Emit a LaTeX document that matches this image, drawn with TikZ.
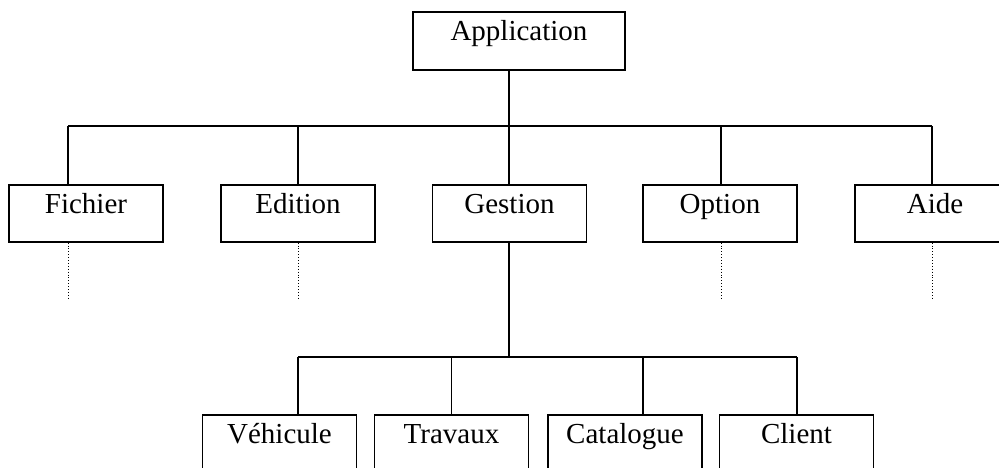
\documentclass[tikz,border=0pt]{standalone}
\usepackage{fontspec}
\setmainfont{Liberation Serif}
\begin{document}
\begin{tikzpicture}[x=1pt,y=-1pt,
  box/.style={draw,line width=1.6pt,rectangle,inner sep=0pt,minimum width=154pt,
    text height=28.5pt,text depth=28.5pt,anchor=north,
    font=\fontsize{29}{30}\selectfont},
  link/.style={line width=1.6pt},
  dots/.style={dotted,line width=0.9pt}]
\useasboundingbox (0,0) rectangle (999,468);
\clip (0,0) rectangle (999,468);
% nodes
\node[box,minimum width=212pt,text depth=29.5pt] (app) at (519,11) {Application};
\node[box] (fic) at (86,184) {Fichier};
\node[box] (edi) at (298,184) {Edition};
\node[box] (ges) at (509.5,184) {Gestion};
\node[box] (opt) at (720,184) {Option};
\node[box,minimum width=160pt] (aid) at (935,184) {Aide};
\node[box,text depth=31pt] (veh) at (279.5,414) {Véhicule};
\node[box,text depth=31pt] (tra) at (451.5,414) {Travaux};
\node[box,text depth=31pt] (cat) at (625,414) {Catalogue};
\node[box,text depth=31pt] (cli) at (796.5,414) {Client};
% coordinates of the buses
\coordinate (busT) at (509,126);
\coordinate (bf) at (68,126);
\coordinate (ba) at (932,126);
\coordinate (bo) at (721,126);
\coordinate (busB) at (509,357);
\coordinate (bv) at (298,357);
\coordinate (bcat) at (643,357);
\coordinate (bc) at (797,357);
\coordinate (dotend) at (0,298);
% top level
\draw[link] (app.south -| busT) -- (busT);
\draw[link] (bf) -- (ba);
\draw[link] (bf) -- (bf |- fic.north);
\draw[link] (edi.north |- busT) -- (edi.north);
\draw[link] (busT) -- (busT |- ges.north);
\draw[link] (bo) -- (bo |- opt.north);
\draw[link] (ba) -- (ba |- aid.north);
% dotted continuations
\draw[dots] (fic.south -| bf) -- (bf |- dotend);
\draw[dots] (edi.south) -- (edi.south |- dotend);
\draw[dots] (opt.south -| bo) -- (bo |- dotend);
\draw[dots] (aid.south -| ba) -- (ba |- dotend);
% second level
\draw[link] (ges.south -| busB) -- (busB);
\draw[link] (bv) -- (bc);
\draw[link] (bv) -- (bv |- veh.north);
\draw[link] (tra.north |- busB) -- (tra.north);
\draw[link] (bcat) -- (bcat |- cat.north);
\draw[link] (bc) -- (bc |- cli.north);
\end{tikzpicture}
\end{document}
